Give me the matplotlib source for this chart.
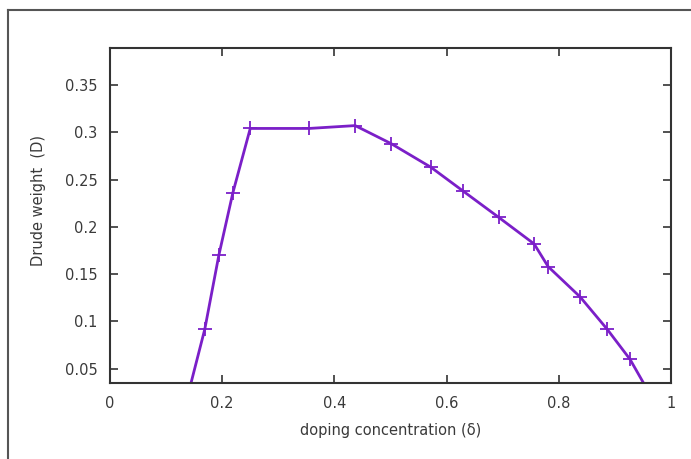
import matplotlib
matplotlib.use("Agg")
import matplotlib.pyplot as plt
from matplotlib.lines import Line2D

doping = [0.125, 0.169, 0.194, 0.219, 0.250, 0.355, 0.437, 0.501, 0.572, 0.629,
          0.693, 0.756, 0.781, 0.838, 0.886, 0.927, 0.975]
drude = [-0.01, 0.092, 0.170, 0.236, 0.304, 0.304, 0.307, 0.288, 0.263, 0.238,
         0.210, 0.182, 0.158, 0.126, 0.092, 0.060, 0.010]
xticks = [0, 0.2, 0.4, 0.6, 0.8, 1]
xticklabels = ["0", "0.2", "0.4", "0.6", "0.8", "1"]
yticks = [0.05, 0.1, 0.15, 0.2, 0.25, 0.3, 0.35]
yticklabels = ["0.05", "0.1", "0.15", "0.2", "0.25", "0.3", "0.35"]

W, H = 691, 459
fig = plt.figure(figsize=(W / 100, H / 100), dpi=100)
ax = fig.add_axes([110 / W, 1 - 383 / H, (671 - 110) / W, (383 - 48) / H])

ax.plot(doping, drude, color="#7b1fc8", lw=2, marker="+", ms=10, mew=1.3,
        clip_on=True)
ax.set_xlim(0, 1)
ax.set_ylim(0.035, 0.389)
ax.set_xticks(xticks)
ax.set_xticklabels(xticklabels)
ax.set_yticks(yticks)
ax.set_yticklabels(yticklabels)
ax.tick_params(direction="in", top=True, right=True, length=6, width=1.2,
               labelsize=10.5, labelcolor="#3a3a3a", colors="#333333", pad=9)
for s in ax.spines.values():
    s.set_linewidth(1.5)
    s.set_color("#333333")
ax.set_xlabel("doping concentration (δ)", fontsize=10.5, color="#3a3a3a", labelpad=9)
ax.set_ylabel("Drude weight  (D)", fontsize=10.5, color="#3a3a3a")
ax.yaxis.set_label_coords(-64 / 561, 0.545)

# outer frame
fx = 8 / W
fy = 1 - 10 / H
fig.add_artist(Line2D([fx, fx], [0, fy], transform=fig.transFigure, color="#555555", lw=1.5))
fig.add_artist(Line2D([fx, 1], [fy, fy], transform=fig.transFigure, color="#555555", lw=1.5))

fig.savefig("out.png", dpi=100)
